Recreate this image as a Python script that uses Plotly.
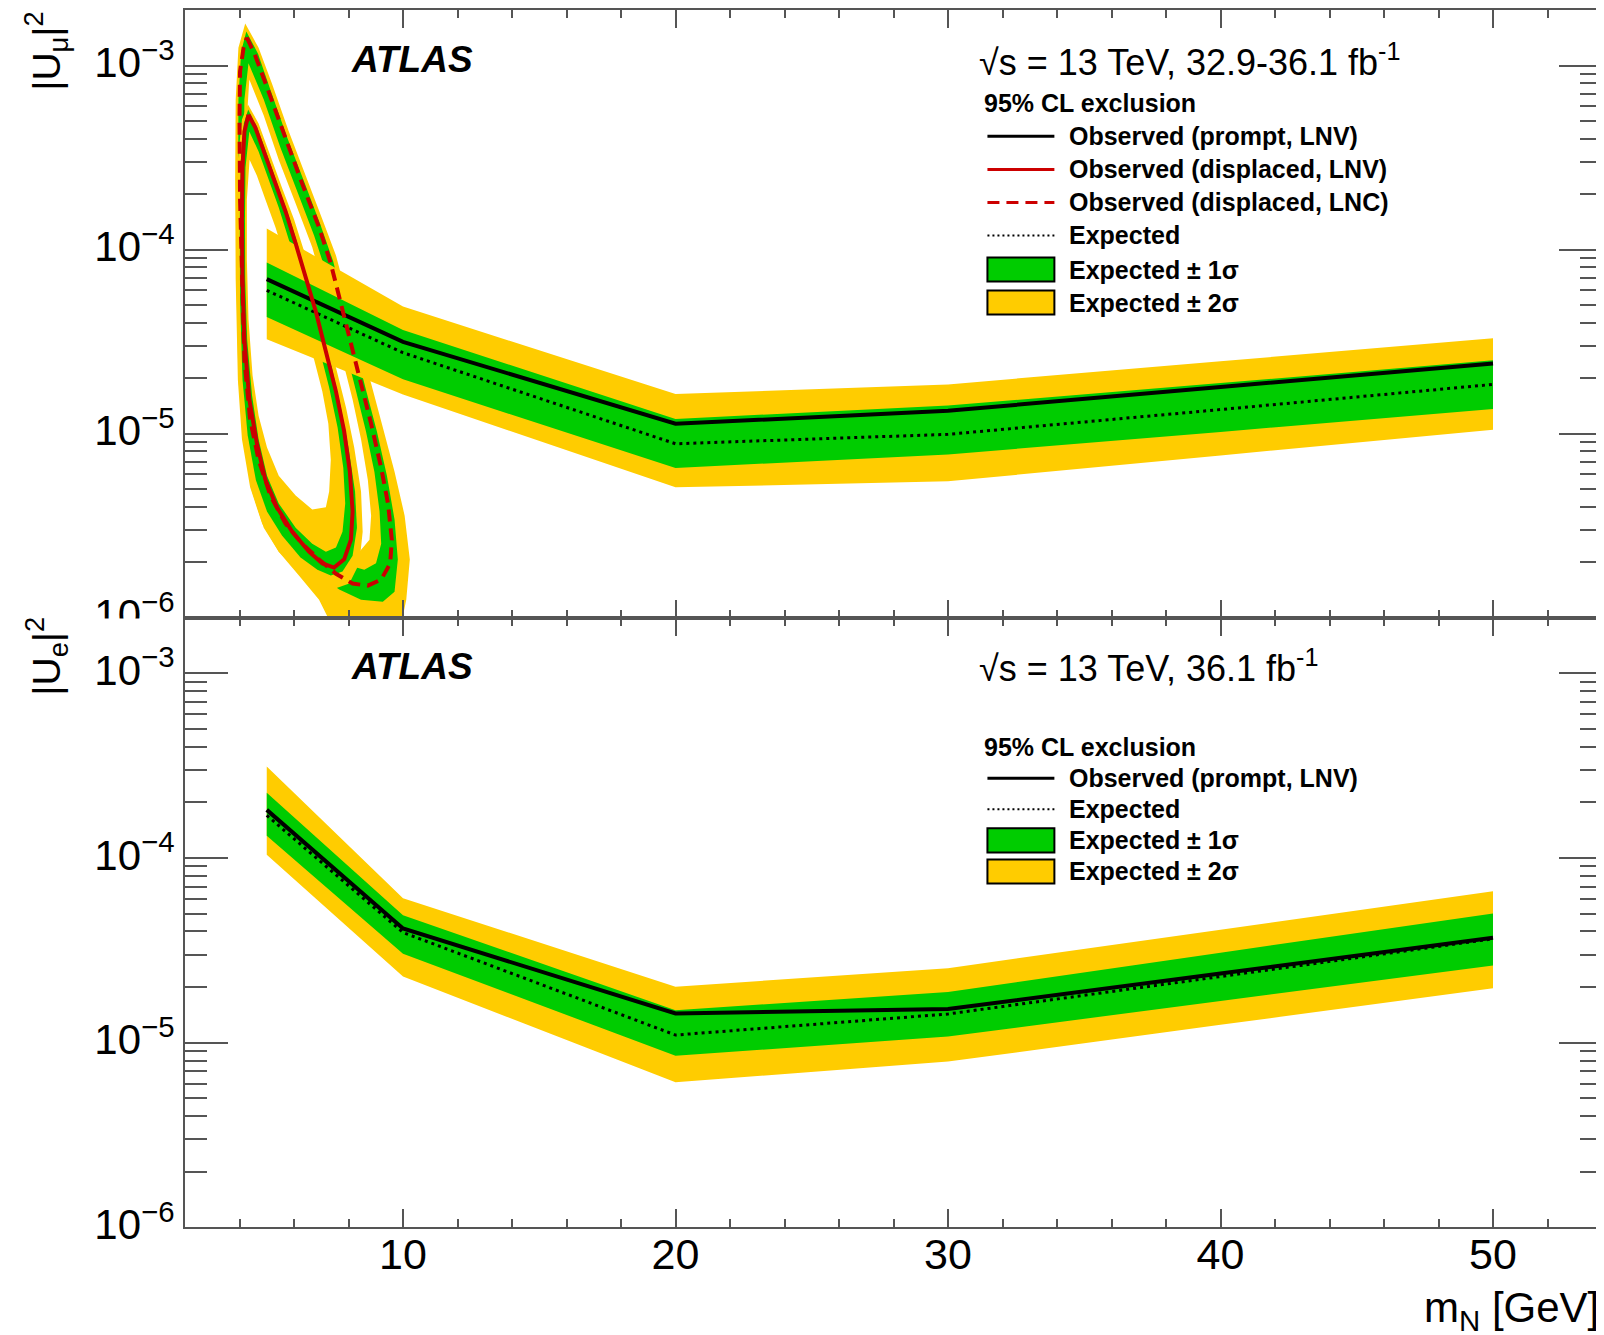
import plotly.graph_objects as go

# window 1604x1335; the page body has an 8px margin.
OFF = 8
K = 1.0173            # vertical correction measured between request and capture
W, H = 1604 - OFF, 1352
PL, PR = 185, 1603    # absolute left / right of the plotting frame

# ---------------- prompt (muon channel, top panel) ----------------
mass_mu = [5, 10, 20, 30, 40, 50]
obs_mu = [6.9e-5, 3.15e-5, 1.13e-5, 1.33e-5, 1.79e-5, 2.4e-5]
exp_mu = [6.0e-5, 2.75e-5, 8.8e-6, 9.9e-6, 1.35e-5, 1.85e-5]
p1s_mu = [8.5e-5, 3.65e-5, 1.2e-5, 1.42e-5, 1.88e-5, 2.5e-5]
m1s_mu = [4.3e-5, 1.97e-5, 6.5e-6, 7.7e-6, 1.02e-5, 1.36e-5]
p2s_mu = [1.3e-4, 4.9e-5, 1.64e-5, 1.85e-5, 2.47e-5, 3.3e-5]
m2s_mu = [3.25e-5, 1.63e-5, 5.1e-6, 5.5e-6, 7.6e-6, 1.05e-5]

# ---------------- prompt (electron channel, bottom panel) ----------------
mass_e = [5, 10, 20, 30, 40, 50]
obs_e = [1.82e-4, 4.15e-5, 1.44e-5, 1.52e-5, 2.37e-5, 3.7e-5]
exp_e = [1.70e-4, 3.95e-5, 1.10e-5, 1.43e-5, 2.28e-5, 3.65e-5]
p1s_e = [2.25e-4, 4.9e-5, 1.5e-5, 1.88e-5, 3.07e-5, 5.0e-5]
m1s_e = [1.32e-4, 3.03e-5, 8.5e-6, 1.08e-5, 1.68e-5, 2.62e-5]
p2s_e = [3.13e-4, 6.05e-5, 2.01e-5, 2.53e-5, 4.09e-5, 6.6e-5]
m2s_e = [1.04e-4, 2.28e-5, 6.1e-6, 7.9e-6, 1.25e-5, 1.97e-5]

# ---------------- displaced, LNC (dashed) contours ----------------
lnc_obs_m = [4.27, 4.58, 5.07, 5.69, 6.30, 6.92, 7.35, 7.72, 8.09, 8.46, 8.83, 9.20, 9.45, 9.59, 9.53,
             9.20, 8.71, 8.15, 7.54, 6.92, 6.30, 5.69, 5.13, 4.70, 4.39, 4.18, 4.09, 4.02, 4.00, 4.02, 4.15]
lnc_obs_u = [1.42e-3, 1.13e-3, 7.2e-4, 3.96e-4, 2.28e-4, 1.32e-4, 8.4e-5, 5.09e-5, 3.08e-5, 1.87e-5, 1.13e-5,
             6.5e-6, 4.17e-6, 2.65e-6, 1.97e-6, 1.61e-6, 1.49e-6, 1.53e-6, 1.73e-6, 2.07e-6, 2.52e-6, 3.24e-6,
             4.61e-6, 7.2e-6, 1.19e-5, 2.52e-5, 6.9e-5, 1.87e-4, 5.09e-4, 9.3e-4, 1.25e-3]
lnc_y2out_m = [4.21, 4.70, 5.19, 5.81, 6.43, 7.04, 7.54, 7.97, 8.40, 8.83, 9.26, 9.69, 10.06, 10.25, 10.12,
               9.94, 7.35, 6.92, 6.18, 5.44, 4.83, 4.39, 4.09, 3.94, 3.86, 3.84, 3.86, 3.96]
lnc_y2out_u = [1.69e-3, 1.25e-3, 7.98e-4, 4.38e-4, 2.52e-4, 1.46e-4, 9.27e-5, 5.35e-5, 3.08e-5, 1.87e-5,
               1.08e-5, 6.2e-6, 3.58e-6, 2.07e-6, 1.25e-6, 9.3e-7, 9.3e-7, 1.25e-6, 1.69e-6, 2.28e-6, 3.24e-6,
               5.1e-6, 9.3e-6, 1.96e-5, 6.9e-5, 2.40e-4, 6.53e-4, 1.25e-3]
lnc_g1out_m = [4.25, 4.68, 5.13, 5.75, 6.37, 6.98, 7.44, 7.84, 8.25, 8.64, 9.04, 9.41, 9.69, 9.81, 9.69,
               9.26, 8.46, 7.66, 6.92, 6.18, 5.44, 4.89, 4.48, 4.21, 4.06, 3.98, 3.95, 3.96, 4.06]
lnc_g1out_u = [1.53e-3, 1.16e-3, 7.41e-4, 4.06e-4, 2.34e-4, 1.35e-4, 8.6e-5, 4.97e-5, 2.93e-5, 1.73e-5,
               1.03e-5, 5.9e-6, 3.41e-6, 2.07e-6, 1.38e-6, 1.22e-6, 1.25e-6, 1.42e-6, 1.69e-6, 2.17e-6,
               2.93e-6, 4.17e-6, 6.5e-6, 1.13e-5, 2.28e-5, 6.9e-5, 2.40e-4, 6.53e-4, 1.19e-3]
lnc_g1in_m = [4.33, 4.89, 5.50, 6.12, 6.74, 7.17, 7.54, 7.91, 8.28, 8.64, 8.95, 9.14, 9.20, 9.01, 8.58,
              8.03, 7.41, 6.80, 6.18, 5.56, 5.07, 4.70, 4.46, 4.27, 4.18, 4.16, 4.18]
lnc_g1in_u = [1.03e-3, 6.53e-4, 3.58e-4, 2.07e-4, 1.19e-4, 7.6e-5, 4.61e-5, 2.79e-5, 1.69e-5, 1.03e-5,
              6.2e-6, 3.77e-6, 2.52e-6, 1.97e-6, 1.82e-6, 1.92e-6, 2.17e-6, 2.65e-6, 3.41e-6, 4.61e-6,
              6.5e-6, 1.03e-5, 1.87e-5, 4.17e-5, 1.13e-4, 3.08e-4, 6.53e-4]
lnc_y2in_m = [4.36, 4.89, 5.44, 6.06, 6.67, 7.04, 7.41, 7.78, 8.15, 8.46, 8.71, 8.83, 8.77, 8.40, 7.91,
              7.29, 6.67, 6.06, 5.44, 5.01, 4.70, 4.46, 4.31, 4.25, 4.25]
lnc_y2in_u = [8.4e-4, 5.35e-4, 3.08e-4, 1.78e-4, 1.03e-4, 6.5e-5, 4.17e-5, 2.52e-5, 1.53e-5, 9.3e-6,
              5.6e-6, 3.58e-6, 2.65e-6, 2.28e-6, 2.40e-6, 2.79e-6, 3.41e-6, 4.38e-6, 5.9e-6, 8.8e-6,
              1.46e-5, 2.79e-5, 6.9e-5, 1.87e-4, 4.6e-4]

# ---------------- displaced, LNV (solid) contours ----------------
lnv_obs_m = [4.33, 4.58, 4.95, 5.32, 5.69, 6.06, 6.43, 6.80, 7.17, 7.54, 7.84, 8.05, 8.15, 8.09, 7.84,
             7.47, 7.04, 6.55, 5.93, 5.38, 4.95, 4.64, 4.36, 4.18, 4.11, 4.09, 4.11, 4.18]
lnv_obs_u = [5.4e-4, 4.6e-4, 3.24e-4, 2.28e-4, 1.61e-4, 1.08e-4, 7.2e-5, 4.61e-5, 2.79e-5, 1.69e-5,
             1.03e-5, 6.2e-6, 3.77e-6, 2.65e-6, 2.07e-6, 1.87e-6, 1.97e-6, 2.28e-6, 2.93e-6, 3.96e-6,
             5.6e-6, 8.8e-6, 1.53e-5, 3.24e-5, 6.9e-5, 1.46e-4, 2.79e-4, 4.38e-4]
lnv_y2out_m = [4.31, 4.70, 5.13, 5.56, 6.00, 6.40, 6.80, 7.17, 7.54, 7.91, 8.21, 8.46, 8.52, 8.40, 8.03,
               7.41, 6.80, 6.18, 5.44, 4.89, 4.46, 4.15, 3.96, 3.90, 3.90, 3.94, 4.09]
lnv_y2out_u = [6.15e-4, 4.84e-4, 3.24e-4, 2.17e-4, 1.46e-4, 9.5e-5, 6.07e-5, 3.77e-5, 2.28e-5, 1.38e-5,
               8.4e-6, 4.84e-6, 2.93e-6, 1.97e-6, 1.53e-6, 1.42e-6, 1.53e-6, 1.78e-6, 2.28e-6, 3.08e-6,
               4.84e-6, 9.3e-6, 1.96e-5, 5.35e-5, 1.46e-4, 3.08e-4, 5.09e-4]
lnv_g1out_m = [4.32, 4.65, 5.05, 5.44, 5.85, 6.24, 6.64, 7.02, 7.39, 7.72, 8.00, 8.24, 8.31, 8.15, 7.78,
               7.35, 6.86, 6.24, 5.56, 5.01, 4.60, 4.30, 4.11, 4.02, 4.01, 4.05, 4.16]
lnv_g1out_u = [5.77e-4, 4.6e-4, 3.16e-4, 2.17e-4, 1.46e-4, 9.5e-5, 6.07e-5, 3.77e-5, 2.28e-5, 1.38e-5,
               8.4e-6, 4.84e-6, 3.08e-6, 2.17e-6, 1.78e-6, 1.69e-6, 1.82e-6, 2.12e-6, 2.79e-6, 3.77e-6,
               5.6e-6, 9.8e-6, 1.96e-5, 5.35e-5, 1.46e-4, 3.08e-4, 4.84e-4]
lnv_g1in_m = [4.36, 4.70, 5.07, 5.44, 5.81, 6.18, 6.55, 6.92, 7.29, 7.60, 7.81, 7.88, 7.78, 7.54, 7.17,
              6.67, 6.06, 5.44, 5.01, 4.70, 4.46, 4.28, 4.21, 4.20, 4.22]
lnv_g1in_u = [4.38e-4, 3.41e-4, 2.40e-4, 1.69e-4, 1.13e-4, 7.6e-5, 4.84e-5, 2.93e-5, 1.78e-5, 1.08e-5,
              6.5e-6, 4.17e-6, 2.93e-6, 2.40e-6, 2.28e-6, 2.52e-6, 3.08e-6, 4.17e-6, 5.9e-6, 9.3e-6,
              1.61e-5, 3.24e-5, 6.9e-5, 1.46e-4, 2.79e-4]
lnv_y2in_m = [4.37, 4.64, 4.95, 5.32, 5.69, 6.06, 6.43, 6.74, 7.04, 7.26, 7.35, 7.29, 7.17, 6.67, 6.06,
              5.44, 5.01, 4.70, 4.48, 4.33, 4.27, 4.27]
lnv_y2in_u = [3.08e-4, 2.52e-4, 1.87e-4, 1.32e-4, 8.8e-5, 5.9e-5, 3.77e-5, 2.52e-5, 1.69e-5, 1.13e-5,
              7.2e-6, 4.84e-6, 3.98e-6, 3.86e-6, 4.61e-6, 5.9e-6, 8.4e-6, 1.25e-5, 2.07e-5, 4.17e-5,
              8.8e-5, 1.87e-4]

# ---------------- text ----------------
x_ticks = [10, 20, 30, 40, 50]
legend_top = ["Observed (prompt, LNV)", "Observed (displaced, LNV)", "Observed (displaced, LNC)",
              "Expected", "Expected \u00b1 1\u03c3", "Expected \u00b1 2\u03c3"]
legend_bot = ["Observed (prompt, LNV)", "Expected", "Expected \u00b1 1\u03c3", "Expected \u00b1 2\u03c3"]

YEL = "#ffcc00"
GRN = "#00cc00"
RED = "#cc0000"
FONT = "Liberation Sans, Arial, Helvetica, sans-serif"
AXC = "#555555"


def P(px):
    # target x (pixels) -> paper x
    return (px - PL) / (PR - PL)


def Q(py):
    # target y (pixels) -> paper y
    return 1 - (py * K - OFF) / H


fig = go.Figure()


def closed(a):
    return list(a) + [a[0]]


def poly(xs, ys, color, xa, ya):
    fig.add_trace(go.Scatter(x=closed(xs), y=closed(ys), fill="toself", fillcolor=color,
                             mode="none", xaxis=xa, yaxis=ya, hoverinfo="skip", showlegend=False))


def band(xs, hi, lo, color, xa, ya):
    fig.add_trace(go.Scatter(x=list(xs) + list(xs)[::-1], y=list(hi) + list(lo)[::-1],
                             fill="toself", fillcolor=color, mode="none", xaxis=xa, yaxis=ya,
                             hoverinfo="skip", showlegend=False))


def line(xs, ys, color, width, dash, xa, ya, close=False):
    if close:
        xs, ys = closed(xs), closed(ys)
    fig.add_trace(go.Scatter(x=xs, y=ys, mode="lines", line=dict(color=color, width=width, dash=dash),
                             xaxis=xa, yaxis=ya, hoverinfo="skip", showlegend=False))


# displaced LNC bands
poly(lnc_y2out_m, lnc_y2out_u, YEL, "x", "y")
poly(lnc_g1out_m, lnc_g1out_u, GRN, "x", "y")
poly(lnc_g1in_m, lnc_g1in_u, YEL, "x", "y")
poly(lnc_y2in_m, lnc_y2in_u, "white", "x", "y")
# displaced LNV bands
poly(lnv_y2out_m, lnv_y2out_u, YEL, "x", "y")
poly(lnv_g1out_m, lnv_g1out_u, GRN, "x", "y")
poly(lnv_g1in_m, lnv_g1in_u, YEL, "x", "y")
poly(lnv_y2in_m, lnv_y2in_u, "white", "x", "y")
# prompt bands (top)
band(mass_mu, p2s_mu, m2s_mu, YEL, "x", "y")
band(mass_mu, p1s_mu, m1s_mu, GRN, "x", "y")
line(mass_mu, exp_mu, "black", 3, "3px,4px", "x", "y")
line(mass_mu, obs_mu, "black", 4, "solid", "x", "y")
# displaced observed lines
line(lnv_obs_m, lnv_obs_u, RED, 4, "solid", "x", "y", close=True)
line(lnc_obs_m, lnc_obs_u, RED, 4, "12px,7px", "x", "y", close=True)

# bottom panel
band(mass_e, p2s_e, m2s_e, YEL, "x2", "y2")
band(mass_e, p1s_e, m1s_e, GRN, "x2", "y2")
line(mass_e, exp_e, "black", 3, "3px,4px", "x2", "y2")
line(mass_e, obs_e, "black", 4, "solid", "x2", "y2")

xcommon = dict(range=[2, 54], showgrid=False, zeroline=False, showline=True, linecolor=AXC, linewidth=2,
               mirror="ticks", ticks="inside", ticklen=18, tickwidth=1.5, tickcolor=AXC,
               tickmode="array", tickvals=x_ticks,
               minor=dict(ticks="inside", ticklen=8, tickwidth=1.5, tickcolor=AXC, dtick=2, tick0=0,
                          showgrid=False))
minor_y = [k * 10.0 ** e for e in range(-6, -2) for k in range(2, 10)]
ycommon = dict(type="log", range=[-6, -2.69897], showgrid=False, zeroline=False, showline=True,
               linecolor=AXC, linewidth=2, mirror="ticks", ticks="inside", ticklen=43, tickwidth=1.5,
               tickcolor=AXC, tickmode="array", tickvals=[1e-6, 1e-5, 1e-4, 1e-3],
               ticktext=["10<sup>\u22126</sup>", "10<sup>\u22125</sup>", "10<sup>\u22124</sup>",
                         "10<sup>\u22123</sup>"],
               tickfont=dict(family=FONT, size=42, color="black"), ticklabelstandoff=0,
               ticklabelshift=-3,
               minor=dict(ticks="inside", ticklen=22, tickwidth=1.5, tickcolor=AXC, tickvals=minor_y,
                          showgrid=False))

fig.update_layout(
    width=W, height=H, margin=dict(l=PL - OFF, r=1604 - PR, t=0, b=0, pad=0),
    paper_bgcolor="white", plot_bgcolor="white", showlegend=False,
    xaxis=dict(**xcommon, anchor="y", domain=[0, 1], showticklabels=False),
    yaxis=dict(**ycommon, anchor="x", domain=[Q(616.5), Q(10)]),
    xaxis2=dict(**xcommon, anchor="y2", domain=[0, 1], showticklabels=True,
                tickfont=dict(family=FONT, size=43, color="black"), ticklabelstandoff=-12),
    yaxis2=dict(**ycommon, anchor="x2", domain=[Q(1225.5), Q(616.5)]),
)

shapes = []
annotations = []

# hide the lower half of the clipped 10^-6 label of the upper pad
shapes.append(dict(type="rect", xref="paper", yref="paper", x0=P(60), x1=P(183), y0=Q(645), y1=Q(617.5),
                   fillcolor="white", line=dict(width=0), layer="above"))


def txt(x, y, s, size, anchor="left", bold=False, angle=0, yanchor="middle"):
    annotations.append(dict(xref="paper", yref="paper", x=P(x), y=Q(y), text=s, showarrow=False,
                            xanchor=anchor, yanchor=yanchor, textangle=angle,
                            font=dict(family=FONT, size=size, color="black",
                                      weight="bold" if bold else "normal")))


def lsample(y, color, width, dash):
    shapes.append(dict(type="line", xref="paper", yref="paper", x0=P(988), x1=P(1055), y0=Q(y), y1=Q(y),
                       line=dict(color=color, width=width, dash=dash)))


def bsample(y, color):
    shapes.append(dict(type="rect", xref="paper", yref="paper", x0=P(988), x1=P(1055), y0=Q(y + 12),
                       y1=Q(y - 12), fillcolor=color, line=dict(color="black", width=2)))


# top panel texts
txt(349, 59, "<b><i>ATLAS</i></b>", 37)
txt(978, 60, "\u221as = 13 TeV, 32.9-36.1 fb<sup>-1</sup>", 36)
txt(983, 103, "95% CL exclusion", 25, bold=True)
ys_top = [136, 169, 202, 235, 269, 302]
lsample(ys_top[0], "black", 3, "solid")
lsample(ys_top[1], RED, 3, "solid")
lsample(ys_top[2], RED, 3, "12px,7px")
lsample(ys_top[3], "black", 2, "2px,3px")
bsample(ys_top[4], GRN)
bsample(ys_top[5], YEL)
for yy, s in zip(ys_top, legend_top):
    txt(1068, yy, s, 25, bold=True)

# bottom panel texts
txt(349, 665, "<b><i>ATLAS</i></b>", 37)
txt(978, 665, "\u221as = 13 TeV, 36.1 fb<sup>-1</sup>", 36)
txt(983, 746, "95% CL exclusion", 25, bold=True)
ys_bot = [777, 808, 839, 870]
lsample(ys_bot[0], "black", 3, "solid")
lsample(ys_bot[1], "black", 2, "2px,3px")
bsample(ys_bot[2], GRN)
bsample(ys_bot[3], YEL)
for yy, s in zip(ys_bot, legend_bot):
    txt(1068, yy, s, 25, bold=True)

# axis titles
txt(46, 10, "|U<sub>\u03bc</sub>|<sup>2</sup>", 39, anchor="center", angle=-90, yanchor="top")
txt(46, 614, "|U<sub>e</sub>|<sup>2</sup>", 39, anchor="center", angle=-90, yanchor="top")
txt(1602, 1308, "m<sub>N</sub> [GeV]", 42, anchor="right")

fig.update_layout(shapes=shapes, annotations=annotations)
fig.write_html("out.html")
